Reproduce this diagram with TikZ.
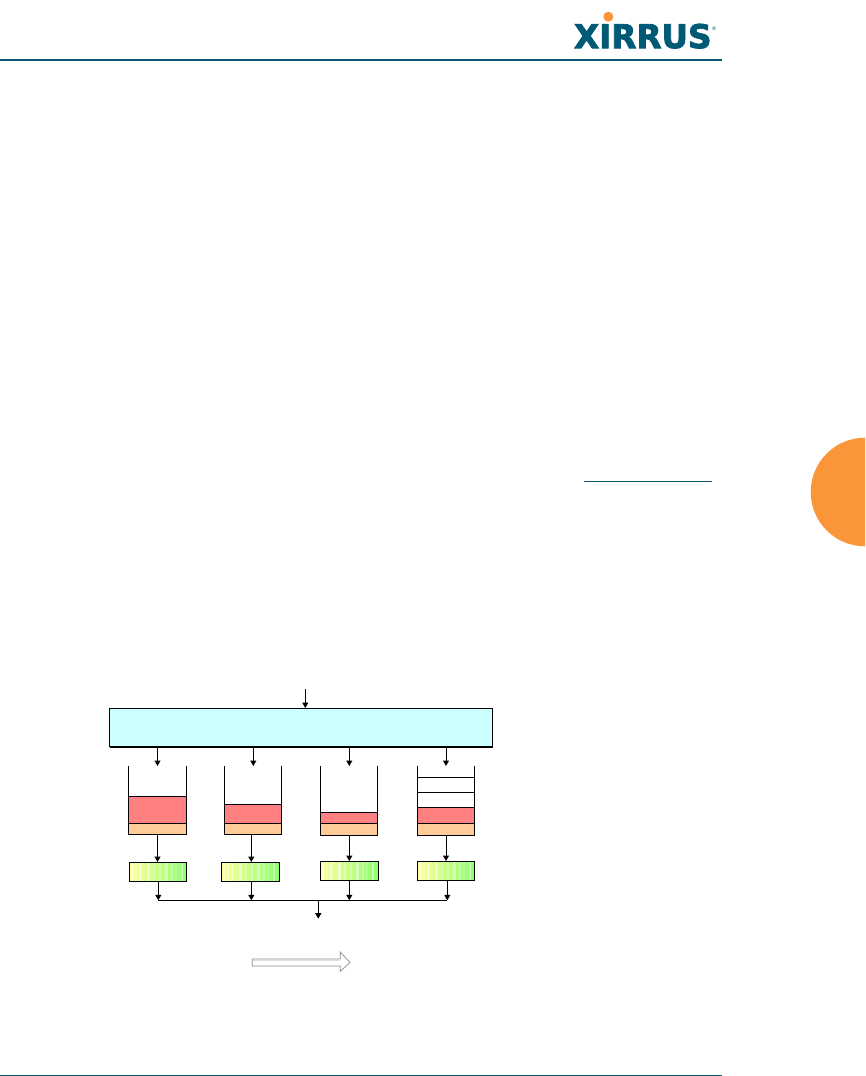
\documentclass[tikz,border=0pt]{standalone}
\usepackage{fontspec}
\usetikzlibrary{arrows.meta,calc}
\newfontfamily\logofont{DejaVu Sans Bold}[FakeBold=2.5]
\newfontfamily\regfont{DejaVu Sans}
\definecolor{xteal}{HTML}{0F5A73}
\definecolor{xlogo}{HTML}{005A75}
\definecolor{xorange}{HTML}{FB9539}
\definecolor{hubfill}{HTML}{CCFFFF}
\definecolor{redfill}{HTML}{FF8080}
\definecolor{peachfill}{HTML}{FFCC99}
\definecolor{ylw}{HTML}{FFFF99}
\definecolor{grn}{HTML}{8CFF73}
\tikzset{
  x=1pt,y=-1pt,
  boxed/.style={draw=black,line width=1pt,inner sep=0pt,outer sep=0pt},
  hubbox/.style={boxed,fill=hubfill},
  redbox/.style={boxed,fill=redfill},
  peachbox/.style={boxed,fill=peachfill},
  slotbox/.style={boxed,fill=white},
  greenbox/.style={boxed,left color=ylw,right color=grn},
  conn/.style={draw=black,line width=1pt,-{Triangle[width=6pt,length=5.5pt]}},
  wire/.style={draw=black,line width=1pt},
  rule/.style={draw=xteal,line width=1.5pt},
}
% name, style, x1, y1, x2, y2
\newcommand{\rectnode}[6]{%
  \pgfmathsetmacro{\rw}{#5-#3}\pgfmathsetmacro{\rh}{#6-#4}%
  \pgfmathsetmacro{\rcx}{(#5+#3)/2}\pgfmathsetmacro{\rcy}{(#6+#4)/2}%
  \node[#2,minimum width=\rw pt,minimum height=\rh pt] (#1) at (\rcx,\rcy) {};%
}
% pale stripes over a green box, border redrawn on top
\newcommand{\stripes}[1]{%
  \begin{scope}
    \clip (#1.south west) rectangle (#1.north east);
    \foreach \sx/\sw/\so in {2/2/.5, 6/1.5/.35, 10/3/.4, 18/3/.55, 24/1.5/.3, 30/1.5/.3, 36/3/.45, 42/2/.3, 46/1.5/.2, 52/2/.4}{
      \fill[white,opacity=\so] ($(#1.north west)+(\sx,0)$) rectangle ++(\sw,25);
    }
  \end{scope}%
  \draw[wire] (#1.south west) rectangle (#1.north east);%
}
\begin{document}
\begin{tikzpicture}
\useasboundingbox (0,0) rectangle (865,1076);
\begin{scope}
\clip (0,0) rectangle (865,1076);
\fill[xorange] (865,492) circle[radius=54.3];
\end{scope}
% header and footer rules, link rule
\coordinate (hl) at (0,60); \coordinate (hr) at (722,60);
\draw[rule] (hl) -- (hr);
\coordinate (fl) at (0,1075.2); \coordinate (fr) at (722,1075.2);
\draw[draw=xteal,line width=1.1pt] (fl) -- (fr);
\coordinate (ll) at (584,481.3); \coordinate (lr) at (711.7,481.3);
\draw[draw=xteal,line width=0.8pt] (ll) -- (lr);
% logo
\fill[xorange] (608.3,16.7) circle[radius=5];
\node[inner sep=0pt,outer sep=0pt,text=xlogo] (logo) at (642.8,36.2) {\resizebox{137.5pt}{24.3pt}{\logofont XIRRUS}};
\node[inner sep=0pt,text=xlogo,font=\regfont\fontsize{5}{5}\selectfont] (reg) at (714,29) {®};
% classifier
\rectnode{hub}{hubbox}{109.5}{708}{492.5}{746.7}
\draw[draw=black,line width=2.2pt] (hub.south west) -- (hub.south east);
\coordinate (in) at (305.3,689.3);
\draw[conn] (in) -- (in |- hub.north);
% queue 1
\rectnode{qa}{peachbox}{128.3}{823.3}{186.3}{834.3}
\rectnode{ra}{redbox}{128.3}{796.3}{186.3}{823.3}
\coordinate (ta) at (157.5,766);
% queue 2
\rectnode{qb}{peachbox}{224.3}{823.3}{281.3}{834.3}
\rectnode{rb}{redbox}{224.3}{804.3}{281.3}{823.3}
\coordinate (tb) at (253.3,766);
% queue 3
\rectnode{qc}{peachbox}{320.3}{823.3}{377.3}{835.3}
\rectnode{rc}{redbox}{320.3}{812.3}{377.3}{823.3}
\coordinate (tc) at (349.3,766);
% queue 4
\rectnode{qd}{peachbox}{417.3}{823.3}{474.3}{835.3}
\rectnode{rd}{redbox}{417.3}{807.3}{474.3}{823.3}
\rectnode{sd}{slotbox}{417.3}{792.3}{474.3}{807.3}
\rectnode{se}{slotbox}{417.3}{777.3}{474.3}{792.3}
\coordinate (td) at (446,766);
% queue walls
\draw[wire] (ra.north west) -- (ra.north west |- ta) (ra.north east) -- (ra.north east |- ta);
\draw[wire] (rb.north west) -- (rb.north west |- tb) (rb.north east) -- (rb.north east |- tb);
\draw[wire] (rc.north west) -- (rc.north west |- tc) (rc.north east) -- (rc.north east |- tc);
\draw[wire] (se.north west) -- (se.north west |- td) (se.north east) -- (se.north east |- td);
% classifier to queues
\draw[conn] (hub.south -| ta) -- (ta);
\draw[conn] (hub.south -| tb) -- (tb);
\draw[conn] (hub.south -| tc) -- (tc);
\draw[conn] (hub.south -| td) -- (td);
% schedulers
\rectnode{ga}{greenbox}{129.3}{862.3}{186.3}{881.3}
\rectnode{gb}{greenbox}{221.3}{862.3}{279.3}{881.3}
\rectnode{gc}{greenbox}{320.3}{861.3}{378.3}{880.3}
\rectnode{gd}{greenbox}{417.3}{861.3}{474.3}{880.3}
\stripes{ga}\stripes{gb}\stripes{gc}\stripes{gd}
\coordinate (xa) at (157.5,862); \coordinate (xb) at (251.3,862);
\coordinate (xc) at (349.3,861); \coordinate (xd) at (446,861);
\draw[conn] (qa.south -| xa) -- (xa);
\draw[conn] (qb.south -| xb) -- (xb);
\draw[conn] (qc.south -| xc) -- (xc);
\draw[conn] (qd.south -| xd) -- (xd);
% output bus
\coordinate (ba) at (158.3,900.3); \coordinate (bb) at (251.3,900.3);
\coordinate (bc) at (349.3,900.3); \coordinate (bd) at (447.3,900.3);
\coordinate (bo) at (318.3,900.3); \coordinate (out) at (318.3,918.7);
\draw[wire] (ba) -- (bd);
\draw[conn] (ga.south -| ba) -- (ba);
\draw[conn] (gb.south -| bb) -- (bb);
\draw[conn] (gc.south -| bc) -- (bc);
\draw[conn] (gd.south -| bd) -- (bd);
\draw[conn] (bo) -- (out);
% block arrow
\draw[draw=gray!90,fill=white,line width=0.7pt,line join=miter]
  (252.3,959) -- (340.3,959) -- (340.3,952) -- (350,962.5) -- (340.3,971.3) -- (340.3,966) -- (252.3,966) -- cycle;
\draw[draw=black!12,line width=1.2pt] (253,960.2) -- (340,960.2);
\end{tikzpicture}
\end{document}
